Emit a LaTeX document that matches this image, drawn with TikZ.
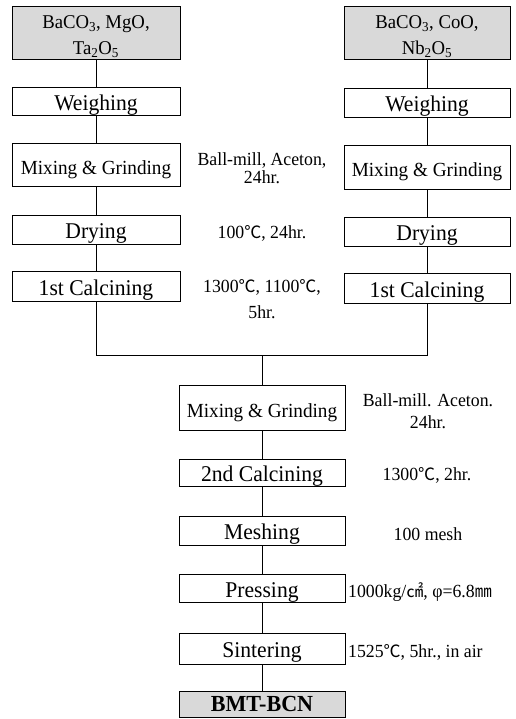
\documentclass[tikz,border=0pt]{standalone}
\usepackage{fontspec}
\setmainfont{Liberation Serif}[FakeStretch=0.96]
\newfontfamily\symf{Noto Sans CJK SC}[Scale=0.92]
\newcommand{\degC}{{\symf ℃}}
\newcommand{\sqcm}{{\symf ㎠}}
\newcommand{\mmunit}{{\symf ㎜}}
\begin{document}
\begin{tikzpicture}[x=1pt,y=-1pt,
  box/.style={draw, line width=0.9pt, minimum width=168pt, inner sep=0pt,
    font=\fontsize{22.5}{26}\selectfont, text height=18pt, text depth=0pt},
  rbox/.style={box, minimum width=166pt},
  mixf/.style={font=\fontsize{20}{24}\selectfont, text height=20pt, text depth=0pt},
  raw/.style={draw, line width=0.9pt, fill=gray!30, inner sep=0pt,
    font=\fontsize{19.5}{26}\selectfont, align=center},
  note/.style={font=\fontsize{18.5}{22}\selectfont, inner sep=0pt, anchor=base},
  conn/.style={line width=0.9pt}]
\useasboundingbox (0,0) rectangle (515,719);

% left column
\node[raw, minimum width=168pt, minimum height=53pt] (L0) at (96,32.5) {\rule{0pt}{21pt}BaCO\textsubscript{3}, MgO,\\Ta\textsubscript{2}O\textsubscript{5}};
\node[box, minimum height=28pt] (L1) at (96,101.5) {Weighing};
\node[box, mixf, minimum height=43pt] (L2) at (96,164.5) {Mixing \& Grinding};
\node[box, minimum height=29pt] (L3) at (96,229.5) {Drying};
\node[box, minimum height=30pt] (L4) at (96,286) {1st Calcining};

% right column
\node[raw, minimum width=166pt, minimum height=53pt] (R0) at (427,32.5) {\rule{0pt}{21pt}BaCO\textsubscript{3}, CoO,\\Nb\textsubscript{2}O\textsubscript{5}};
\node[rbox, minimum height=29pt] (R1) at (427,102.5) {Weighing};
\node[rbox, mixf, minimum height=44pt] (R2) at (427,167) {Mixing \& Grinding};
\node[rbox, minimum height=29pt] (R3) at (427,231.5) {Drying};
\node[rbox, minimum height=30pt] (R4) at (427,288) {1st Calcining};

% middle notes
\node[note] (A1) at (262,166) {Ball-mill, Aceton,};
\node[note] (A1b) at (262,184) {24hr.};
\node[note] (A2) at (262,238) {100\degC, 24hr.};
\node[note] (A3) at (262,292) {1300\degC, 1100\degC,};
\node[note] (A4) at (262,318) {5hr.};

% bottom column
\node[rbox, mixf, minimum height=45pt] (M1) at (262,407.5) {Mixing \& Grinding};
\node[rbox, minimum height=27pt] (M2) at (262,472.5) {2nd Calcining};
\node[rbox, minimum height=29pt] (M3) at (262,530.5) {Meshing};
\node[rbox, minimum height=28pt] (M4) at (262,588) {Pressing};
\node[rbox, minimum height=31pt] (M5) at (262,648.5) {Sintering};
\node[raw, minimum width=166pt, minimum height=26pt, font=\fontsize{23}{26}\bfseries, text height=15pt, text depth=0pt] (M6) at (262,704) {BMT-BCN};

% bottom notes
\node[note] (B1) at (428,406) {Ball-mill. Aceton.};
\node[note] (B1b) at (428,428) {24hr.};
\node[note] (B2) at (427,480) {1300\degC, 2hr.};
\node[note] (B3) at (428,540) {100 mesh};
\node[note, anchor=base west] (B4) at (348,597) {1000kg/\sqcm, φ=6.8\mmunit};
\node[note, anchor=base west] (B5) at (348,657) {1525\degC, 5hr., in air};

% connectors
\draw[conn] (L0) -- (L1);
\draw[conn] (L1) -- (L2);
\draw[conn] (L2) -- (L3);
\draw[conn] (L3) -- (L4);
\draw[conn] (R0) -- (R1);
\draw[conn] (R1) -- (R2);
\draw[conn] (R2) -- (R3);
\draw[conn] (R3) -- (R4);
\coordinate (jl) at (96,355);
\coordinate (jr) at (427,355);
\coordinate (jc) at (262,355);
\draw[conn] (L4.south) -- (jl) -- (jr) -- (R4.south);
\draw[conn] (jc) -- (M1.north);
\draw[conn] (M1) -- (M2);
\draw[conn] (M2) -- (M3);
\draw[conn] (M3) -- (M4);
\draw[conn] (M4) -- (M5);
\draw[conn] (M5) -- (M6);
\end{tikzpicture}
\end{document}
